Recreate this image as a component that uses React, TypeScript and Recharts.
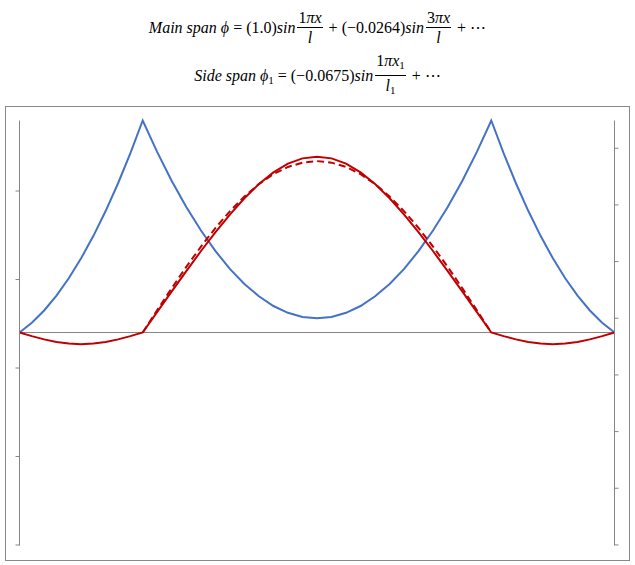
import React from "react";
import { LineChart, Line, XAxis, YAxis, ReferenceLine } from "recharts";

// Positions along the bridge (side span 0–35, main span 35–134, side span 134–169)
const positions = [
  0, 3.5, 7, 10.5, 14, 17.5, 21, 24.5, 28, 31.5, 35,
  39.125, 43.25, 47.375, 51.5, 55.625, 59.75, 63.875, 68, 72.125, 76.25, 80.375, 84.5,
  88.625, 92.75, 96.875, 101, 105.125, 109.25, 113.375, 117.5, 121.625, 125.75, 129.875, 134,
  137.5, 141, 144.5, 148, 151.5, 155, 158.5, 162, 165.5, 169,
];

// Blue curve (relative value, 1.0 at the towers)
const blueValues = [
  0, 0.046, 0.104, 0.174, 0.256, 0.35, 0.456, 0.574, 0.704, 0.846, 1.0,
  0.851, 0.715, 0.592, 0.482, 0.385, 0.3, 0.229, 0.171, 0.125, 0.093, 0.073, 0.067,
  0.073, 0.093, 0.125, 0.171, 0.229, 0.3, 0.385, 0.482, 0.592, 0.715, 0.851, 1.0,
  0.846, 0.704, 0.574, 0.456, 0.35, 0.256, 0.174, 0.104, 0.046, 0,
];

// Red solid: two-term mode shape
const modeSolid = [
  0, -0.021, -0.04, -0.055, -0.064, -0.068, -0.064, -0.055, -0.04, -0.021, 0,
  0.12, 0.24, 0.358, 0.474, 0.584, 0.688, 0.783, 0.866, 0.934, 0.985, 1.016, 1.026,
  1.016, 0.985, 0.934, 0.866, 0.783, 0.688, 0.584, 0.474, 0.358, 0.24, 0.12, 0,
  -0.021, -0.04, -0.055, -0.064, -0.068, -0.064, -0.055, -0.04, -0.021, 0,
];

// Red dashed: one-term main span shape
const modeDashed: (number | null)[] = [
  null, null, null, null, null, null, null, null, null, null, 0,
  0.131, 0.259, 0.383, 0.5, 0.609, 0.707, 0.793, 0.866, 0.924, 0.966, 0.991, 1.0,
  0.991, 0.966, 0.924, 0.866, 0.793, 0.707, 0.609, 0.5, 0.383, 0.259, 0.131, 0,
  null, null, null, null, null, null, null, null, null, null,
];

// Axis tick positions (labels hidden in the reference)
const leftTicks = [-1.2398, -0.7235, -0.2072, 0.3091, 0.8254];
const rightTicks = [-1.002, -0.7347, -0.4674, -0.2001, 0.0672, 0.3345, 0.6018, 0.8691];

const data = positions.map((x, i) => ({
  x,
  blue: blueValues[i],
  solid: modeSolid[i],
  dashed: modeDashed[i],
}));

const AXIS = "#868686";
const NoLabel = () => <g />;

const Frac = ({ num, den }: { num: React.ReactNode; den: React.ReactNode }) => (
  <span
    style={{
      display: "inline-flex",
      flexDirection: "column",
      alignItems: "center",
      margin: "0 2px",
    }}
  >
    <span style={{ borderBottom: "1px solid #000", padding: "0 1px", lineHeight: "19px" }}>{num}</span>
    <span style={{ lineHeight: "19px" }}>{den}</span>
  </span>
);

const I = ({ children }: { children: React.ReactNode }) => (
  <span style={{ fontStyle: "italic" }}>{children}</span>
);

const rowStyle: React.CSSProperties = {
  position: "absolute",
  left: 0,
  width: 635,
  display: "flex",
  justifyContent: "center",
  alignItems: "center",
  fontFamily: "'Liberation Serif', serif",
  fontSize: 16,
  color: "#000",
  whiteSpace: "pre",
};

export default function App() {
  return (
    <div style={{ position: "absolute", left: 0, top: 0, width: 635, height: 565, background: "#fff" }}>
      <div style={{ ...rowStyle, top: 8 }}>
        <I>Main span ϕ</I>
        <span> = (1.0)</span>
        <I>sin</I>
        <Frac num={<><span>1</span><I>πx</I></>} den={<I>l</I>} />
        <span> + (−0.0264)</span>
        <I>sin</I>
        <Frac num={<><span>3</span><I>πx</I></>} den={<I>l</I>} />
        <span> + ⋯</span>
      </div>
      <div style={{ ...rowStyle, top: 51 }}>
        <I>Side span ϕ</I>
        <span style={{ fontSize: 11, alignSelf: "center", marginTop: 8 }}>1</span>
        <span> = (−0.0675)</span>
        <I>sin</I>
        <Frac
          num={<><span>1</span><I>πx</I><span style={{ fontSize: 11, verticalAlign: "-3px" }}>1</span></>}
          den={<><I>l</I><span style={{ fontSize: 11, verticalAlign: "-3px" }}>1</span></>}
        />
        <span> + ⋯</span>
      </div>
      <div
        style={{
          position: "absolute",
          left: 5,
          top: 106,
          width: 625,
          height: 455,
          boxSizing: "border-box",
          border: "1px solid #898989",
        }}
      />
      <div style={{ position: "absolute", left: 0, top: 0 }}>
        <LineChart
          width={635}
          height={565}
          data={data}
          margin={{ top: 120.5, right: 10.5, bottom: 19.5, left: 9.5 }}
        >
          <XAxis dataKey="x" type="number" domain={[0, 169]} hide />
          <YAxis
            yAxisId="left"
            orientation="left"
            width={10}
            type="number"
            domain={[-1.2427, 1.2369]}
            ticks={leftTicks}
            interval={0}
            tick={NoLabel}
            tickSize={4}
            axisLine={{ stroke: AXIS }}
            tickLine={{ stroke: AXIS }}
          />
          <YAxis
            yAxisId="right"
            orientation="right"
            width={10}
            type="number"
            domain={[-1.0047, 1.0]}
            ticks={rightTicks}
            interval={0}
            tick={NoLabel}
            tickSize={4}
            axisLine={{ stroke: AXIS }}
            tickLine={{ stroke: AXIS }}
          />
          <ReferenceLine yAxisId="left" y={0} stroke={AXIS} strokeWidth={1} />
          <Line
            yAxisId="right"
            dataKey="blue"
            type="linear"
            stroke="#4472C4"
            strokeWidth={2}
            dot={false}
            isAnimationActive={false}
          />
          <Line
            yAxisId="left"
            dataKey="solid"
            type="linear"
            stroke="#C00000"
            strokeWidth={2}
            dot={false}
            isAnimationActive={false}
          />
          <Line
            yAxisId="left"
            dataKey="dashed"
            type="linear"
            stroke="#C00000"
            strokeWidth={2}
            strokeDasharray="7 4"
            dot={false}
            isAnimationActive={false}
          />
        </LineChart>
      </div>
    </div>
  );
}
